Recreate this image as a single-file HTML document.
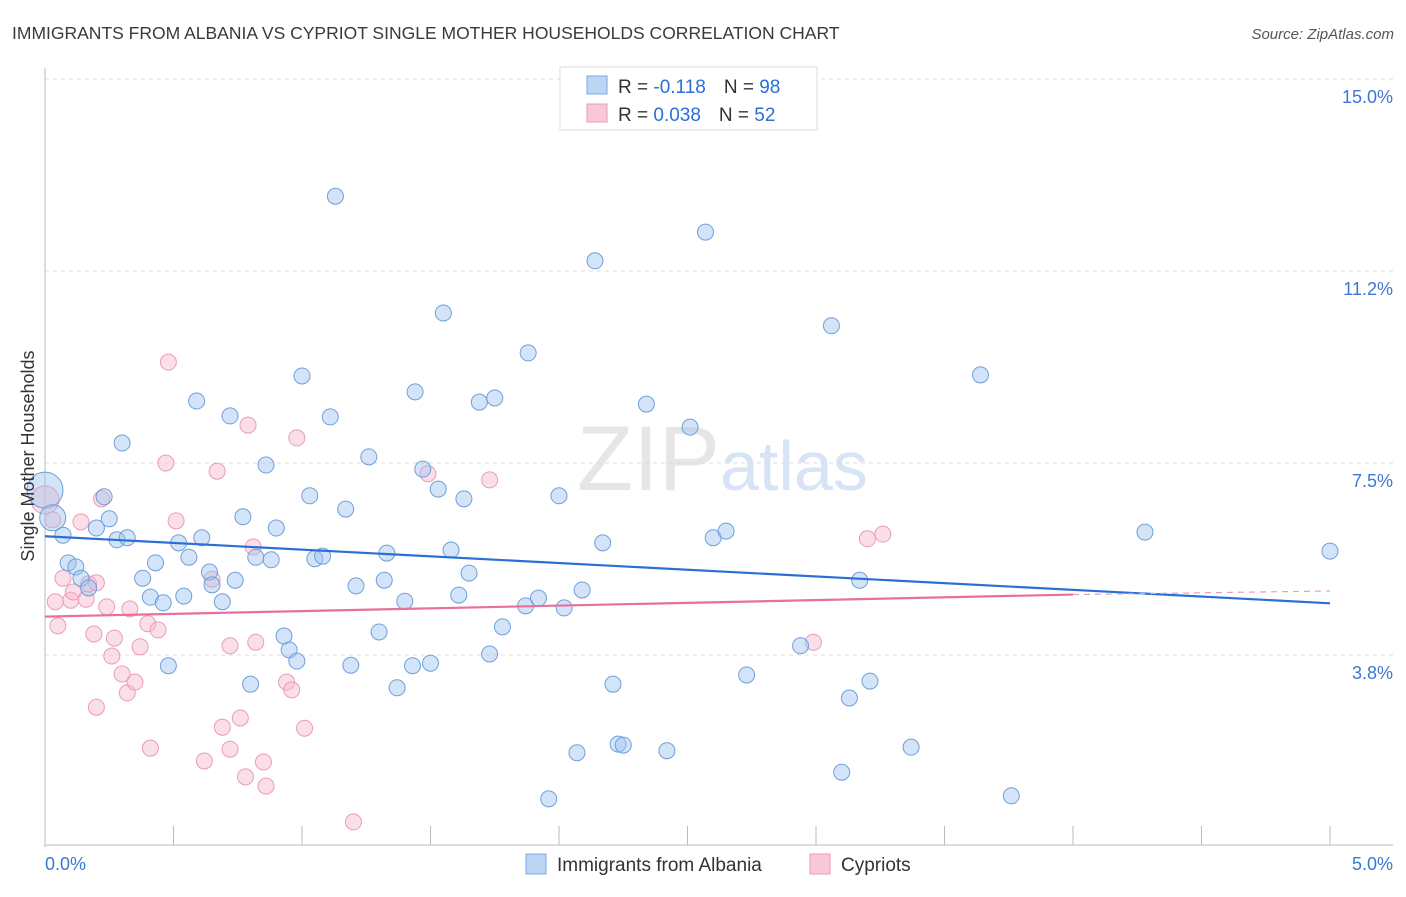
<!DOCTYPE html>
<html><head><meta charset="utf-8"><style>
body{margin:0;background:#fff;font-family:"Liberation Sans",sans-serif}
svg text{font-family:"Liberation Sans",sans-serif}
</style></head><body>
<svg width="1406" height="892" viewBox="0 0 1406 892">
<text x="12" y="39" font-size="17.5" fill="#3a3a3a">IMMIGRANTS FROM ALBANIA VS CYPRIOT SINGLE MOTHER HOUSEHOLDS CORRELATION CHART</text>
<text x="1394" y="39" font-size="15" fill="#555" text-anchor="end" font-style="italic">Source: ZipAtlas.com</text>
<text x="720" y="490" font-size="92" fill="#e6e6e6" text-anchor="end" font-family="Liberation Serif">ZIP</text>
<text x="720" y="490" font-size="70" fill="#d6e4f5">atlas</text>
<g id="grid"></g><g id="axes"></g><g id="pts"></g><g id="trend"></g>
<text transform="translate(34,456) rotate(-90)" font-size="18" fill="#333" text-anchor="middle">Single Mother Households</text>
<g>
<rect x="560" y="67" width="257" height="63" fill="#fff" stroke="#ddd"/>
<rect x="587" y="76" width="20" height="18" fill="#bcd5f5" stroke="#7aa7e0"/>
<rect x="587" y="104" width="20" height="18" fill="#f8c8d8" stroke="#ec9ab8"/>
<text x="618" y="93" font-size="19" fill="#333">R = <tspan fill="#2a6fd6">-0.118</tspan><tspan dx="18">N = </tspan><tspan fill="#2a6fd6">98</tspan></text>
<text x="618" y="121" font-size="19" fill="#333">R = <tspan fill="#2a6fd6"> 0.038</tspan><tspan dx="18">N = </tspan><tspan fill="#2a6fd6">52</tspan></text>
</g>
<g>
<rect x="526" y="854" width="20" height="20" fill="#bcd5f5" stroke="#7aa7e0"/>
<text x="557" y="871" font-size="19" fill="#333">Immigrants from Albania</text>
<rect x="810" y="854" width="20" height="20" fill="#f8c8d8" stroke="#ec9ab8"/>
<text x="841" y="871" font-size="19" fill="#333">Cypriots</text>
</g>
</svg>
<script>
const yTicks=[15.0,11.25,7.5,3.75];
const yTickLabels=["15.0%","11.2%","7.5%","3.8%"];
const xTickLabels=["0.0%","5.0%"];
const blueX=[0,0.03,0.07,0.23,0.09,0.12,0.14,0.17,0.20,0.25,0.30,0.28,0.32,0.38,0.41,0.43,0.46,0.48,0.52,0.54,0.56,0.59,0.61,0.64,0.65,0.69,0.72,0.74,0.77,0.80,0.82,0.86,0.88,0.90,0.93,0.95,0.98,1.00,1.03,1.05,1.08,1.11,1.13,1.17,1.19,1.21,1.26,1.32,1.33,1.30,1.37,1.40,1.43,1.44,1.47,1.50,1.53,1.55,1.58,1.61,1.63,1.65,1.69,1.73,1.75,1.78,1.87,1.88,1.92,1.96,2.00,2.02,2.07,2.09,2.14,2.17,2.21,2.23,2.25,2.34,2.42,2.51,2.57,2.60,2.65,2.73,2.94,3.06,3.10,3.13,3.17,3.21,3.37,3.64,3.76,4.28,5.00];
const blueY=[6.97,6.43,6.09,6.84,5.55,5.47,5.25,5.06,6.23,6.41,7.89,6.00,6.04,5.25,4.88,5.55,4.77,3.54,5.94,4.90,5.66,8.71,6.04,5.37,5.12,4.79,8.42,5.21,6.45,3.18,5.66,7.46,5.61,6.23,4.12,3.85,3.63,9.20,6.86,5.63,5.68,8.40,12.71,6.60,3.55,5.10,7.62,5.21,5.74,4.20,3.11,4.80,3.54,8.89,7.38,3.59,6.99,10.43,5.80,4.92,6.80,5.35,8.69,3.77,8.77,4.30,4.71,9.65,4.86,0.94,6.86,4.67,1.84,5.02,11.45,5.94,3.18,2.01,1.99,8.65,1.88,8.20,12.01,6.04,6.17,3.36,3.93,10.18,1.46,2.91,5.21,3.24,1.95,9.22,1.00,6.15,5.78];
const pinkX=[0,0.03,0.07,0.10,0.11,0.14,0.16,0.17,0.19,0.22,0.24,0.26,0.27,0.30,0.32,0.35,0.33,0.37,0.40,0.41,0.44,0.48,0.47,0.51,0.62,0.65,0.67,0.69,0.72,0.72,0.76,0.78,0.79,0.81,0.82,0.85,0.86,0.94,0.96,0.98,1.01,1.20,1.49,1.73,2.99,3.20,3.26,0.05,0.04,0.20,0.20];
const pinkY=[6.78,6.39,5.25,4.82,4.98,6.35,4.84,5.14,4.16,6.80,4.69,3.73,4.08,3.38,3.01,3.22,4.65,3.91,4.36,1.93,4.24,9.47,7.50,6.37,1.68,5.23,7.34,2.34,3.93,1.91,2.52,1.37,8.24,5.86,4.00,1.66,1.19,3.22,3.07,7.99,2.32,0.49,7.29,7.17,4.00,6.02,6.11,4.32,4.79,5.16,2.73];
const blueTrend=[6.07,4.76];
const pinkTrend=[4.50,4.93,5.00];
const NS="http://www.w3.org/2000/svg";
const X0=45,X1=1330,Y0=847,Y15=79;
const sx=v=>X0+(X1-X0)*v/5;
const sy=v=>Y0-(Y0-Y15)*v/15;
function mk(tag,attrs,parent){const e=document.createElementNS(NS,tag);for(const k in attrs)e.setAttribute(k,attrs[k]);parent.appendChild(e);return e;}
const grid=document.getElementById('grid'),axes=document.getElementById('axes'),pts=document.getElementById('pts'),tr=document.getElementById('trend');
yTicks.forEach((t,i)=>{
 const l=mk('line',{x1:X0,x2:1393,y1:sy(t),y2:sy(t),stroke:'#dcdcdc','stroke-dasharray':'4,4'},grid);
 
 
 const tx=mk('text',{x:1393,y:sy(t)+24,'font-size':18,fill:'#3a78d4','text-anchor':'end'},grid);
 tx.textContent=yTickLabels[i];
 
 
});
const ya=mk('line',{x1:X0,x2:X0,y1:68,y2:Y0,stroke:'#bbb'},axes);


const xa=mk('line',{x1:X0,x2:1393,y1:Y0-2,y2:Y0-2,stroke:'#bbb'},axes);


for(let i=0;i<=10;i++){const t=mk('line',{x1:sx(i*0.5),x2:sx(i*0.5),y1:826,y2:Y0-2,stroke:'#bbb'},axes);
 
 }
const xl0=mk('text',{x:45,y:870,'font-size':18,fill:'#3a78d4'},axes);xl0.textContent=xTickLabels[0];


const xl1=mk('text',{x:1393,y:870,'font-size':18,fill:'#3a78d4','text-anchor':'end'},axes);xl1.textContent=xTickLabels[1];


pinkX.forEach((x,i)=>{const c=mk('circle',{cx:sx(x),cy:sy(pinkY[i]),r:i==0?14:8,fill:'rgba(246,184,204,0.45)',stroke:'#eb9bb9','stroke-width':1},pts);
 
 });
blueX.forEach((x,i)=>{const c=mk('circle',{cx:sx(x),cy:sy(blueY[i]),r:i==0?18:(i==1?13:8),fill:'rgba(160,196,240,0.45)',stroke:'#6f9fdc','stroke-width':1},pts);
 
 });
const bt=mk('line',{x1:sx(0),y1:sy(blueTrend[0]),x2:sx(5),y2:sy(blueTrend[1]),stroke:'#2a6fd6','stroke-width':2.2},tr);


const pt=mk('line',{x1:sx(0),y1:sy(pinkTrend[0]),x2:sx(4),y2:sy(pinkTrend[1]),stroke:'#e8709a','stroke-width':2.2},tr);


const pd=mk('line',{x1:sx(4),y1:sy(pinkTrend[1]),x2:sx(5),y2:sy(pinkTrend[2]),stroke:'#e8a0ba','stroke-width':1.2,'stroke-dasharray':'6,5'},tr);


</script>
</body></html>
